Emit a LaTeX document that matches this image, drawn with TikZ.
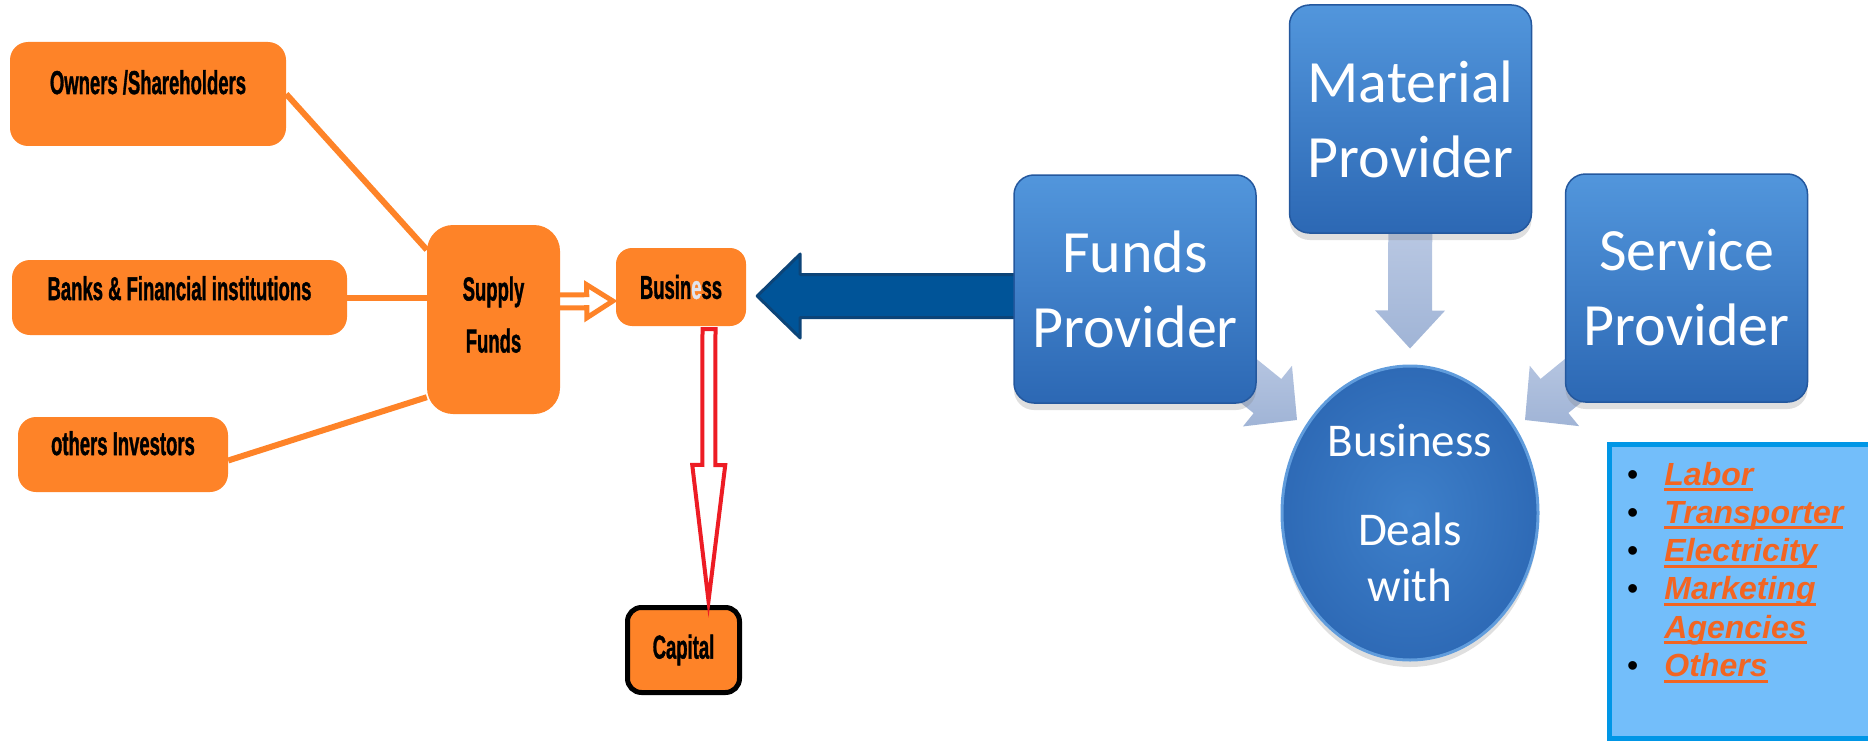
\documentclass[tikz,border=0pt]{standalone}
\usepackage{fontspec}
\setmainfont{Liberation Sans}
\newfontfamily\calibri{Carlito}
\newfontfamily\heavysans{Liberation Sans Bold}[FakeBold=1.6]
\usetikzlibrary{calc,backgrounds,shadows,shapes.geometric}

\definecolor{orangefill}{RGB}{254,131,40}
\definecolor{itemorange}{RGB}{242,101,34}
\definecolor{capred}{RGB}{237,28,36}
\definecolor{navyfill}{RGB}{0,84,152}
\definecolor{navyline}{RGB}{12,68,120}
\definecolor{boxtop}{RGB}{82,150,220}
\definecolor{boxbottom}{RGB}{44,104,180}
\definecolor{boxedge}{RGB}{36,88,158}
\definecolor{paletop}{RGB}{208,218,238}
\definecolor{palebottom}{RGB}{160,180,214}
\definecolor{listfill}{RGB}{115,190,250}
\definecolor{listedge}{RGB}{0,150,230}
\definecolor{fadedletter}{RGB}{225,228,238}

\newcommand\narrow[1]{\scalebox{0.56}[1]{#1}}
\newcommand\ulitem[1]{\setbox0\hbox{#1}\rlap{\rule[-6pt]{\wd0}{3pt}}\box0}
\newcommand\blockarrow[6]{%
  \path ($(#3)!#6!(#2)$) coordinate (headbase);
  \path [#1] ($(#2)!#4!90:(#3)$) -- ($(headbase)!#4!90:(#3)$) -- ($(headbase)!#5!90:(#3)$) -- (#3)
    -- ($(headbase)!#5!-90:(#3)$) -- ($(headbase)!#4!-90:(#3)$) -- ($(#2)!#4!-90:(#3)$) -- cycle;
}

\begin{document}
\begin{tikzpicture}[x=1pt,y=-1pt]
\tikzstyle{every node}+=[inner sep=0pt]
\tikzstyle{orangebox}=[fill=orangefill, rounded corners=18pt, align=center, font=\heavysans\fontsize{33}{52}\selectfont]
\tikzstyle{providerbox}=[rounded corners=20pt, top color=boxtop, bottom color=boxbottom, draw=boxedge, line width=1.5pt,
  minimum width=242pt, minimum height=228pt, text=white, align=center, font=\calibri\fontsize{60}{75}\selectfont,
  drop shadow={shadow xshift=0pt, shadow yshift=-7pt, opacity=0.25}]
\tikzstyle{dealsball}=[ellipse, inner color={rgb,255:red,62;green,128;blue,202}, outer color={rgb,255:red,46;green,106;blue,182},
  draw={rgb,255:red,96;green,156;blue,220}, line width=3pt, text=white, align=center, font=\calibri\fontsize{47}{56}\selectfont,
  drop shadow={shadow xshift=0pt, shadow yshift=-7pt, opacity=0.25}]
\tikzstyle{feedline}=[orangefill, line width=6pt]
\tikzstyle{hollowarrow}=[draw=orangefill, fill=white, line width=5pt, line join=miter]
\tikzstyle{capitalarrow}=[draw=capred, fill=white, line width=4pt, line join=miter]
\tikzstyle{navyarrow}=[draw=navyline, fill=navyfill, line width=3pt, line join=round]
\tikzstyle{palearrow}=[top color=paletop, bottom color=palebottom]
\tikzstyle{listframe}=[draw=listedge, fill=listfill, line width=5pt]

\useasboundingbox (0,0) rectangle (1868,741);

\node (owners) [orangebox, minimum width=276pt, minimum height=104pt, text height=24pt, text depth=24pt] at (148,94) {\narrow{Owners /Shareholders}};
\node (banks) [orangebox, minimum width=335pt, minimum height=75pt, text height=24pt, text depth=19pt] at (179.5,297.5) {\narrow{Banks \& Financial institutions}};
\node (others) [orangebox, minimum width=210pt, minimum height=75pt, text height=24pt, text depth=23pt] at (123,454.5) {\narrow{others Investors}};
\node (supply) [orangebox, minimum width=133pt, minimum height=189pt, rounded corners=26pt, text depth=10pt] at (493.5,319.5) {\narrow{Supply}\\\narrow{Funds}};
\node (business) [orangebox, minimum width=130pt, minimum height=78pt, rounded corners=16pt] at (681,287) {\narrow{Busin\textcolor{fadedletter}{e}ss}};
\node (capital) [orangebox, draw=black, line width=5pt, minimum width=112pt, minimum height=85pt, rounded corners=14pt] at (683.5,650) {\narrow{Capital}};

\node (funds) [providerbox] at (1135,289) {Funds\\Provider};
\node (material) [providerbox] at (1410.5,119) {Material\\Provider};
\node (service) [providerbox] at (1686.5,288) {Service\\Provider};
\node (deals) [dealsball, minimum width=256pt, minimum height=294pt] at (1410,513) {Business\\[33pt]Deals\\with};

\coordinate (hollowtail) at ($(supply.east)+(-5,-18)$);
\coordinate (hollowtip) at ($(business.west)+(-3,14)$);
\coordinate (navytail) at ($(funds.west)+(20,7)$);
\coordinate (navytip) at ($(business.east)+(11,9)$);
\coordinate (captail) at ($(business.south)+(28,3)$);
\coordinate (captip) at ($(capital.north)+(25,-4)$);
\coordinate (materialtip) at ($(deals.north)+(0,-16)$);
\coordinate (fundstip) at ($(deals.center)+(-113,-93)$);
\coordinate (servicetip) at ($(deals.center)+(115,-93)$);

\begin{scope}[on background layer]
\draw [feedline] (owners.east) -- ($(supply.north west)+(0,25)$);
\draw [feedline] (banks.east) -- (supply.west |- banks.east);
\draw [feedline] ($(others.east)+(0,6)$) -- ($(supply.south west)+(0,-17)$);
\blockarrow{hollowarrow}{hollowtail}{hollowtip}{6.5pt}{16.5pt}{26pt}
\blockarrow{navyarrow}{navytail}{navytip}{21.5pt}{42pt}{43pt}
\blockarrow{palearrow}{material}{materialtip}{22pt}{35pt}{38pt}
\blockarrow{palearrow}{funds}{fundstip}{22pt}{39pt}{38pt}
\blockarrow{palearrow}{service}{servicetip}{22pt}{39pt}{38pt}
\end{scope}

\blockarrow{capitalarrow}{captail}{captip}{6.5pt}{16.5pt}{136pt}

\draw [listframe] (1609.5,444.5) rectangle (1895,738.5);
\node (extras) [anchor=base west, text=itemorange, font=\fontsize{32}{38.3}\selectfont\bfseries\itshape] at (1627,485) {%
\begin{tabular}[t]{@{}l@{\hspace{26pt}}l@{}}
\textcolor{black}{\normalfont\textbullet} & \ulitem{Labor}\\
\textcolor{black}{\normalfont\textbullet} & \ulitem{Transporter}\\
\textcolor{black}{\normalfont\textbullet} & \ulitem{Electricity}\\
\textcolor{black}{\normalfont\textbullet} & \ulitem{Marketing}\\
 & \ulitem{Agencies}\\
\textcolor{black}{\normalfont\textbullet} & \ulitem{Others}
\end{tabular}};
\end{tikzpicture}
\end{document}
